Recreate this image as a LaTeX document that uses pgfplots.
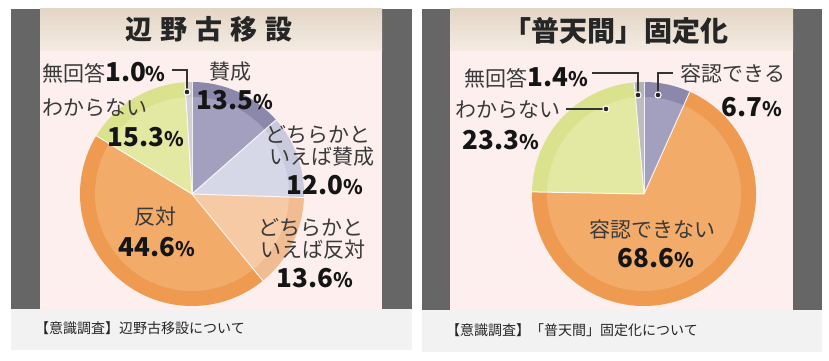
\documentclass[border=0pt]{standalone}
\usepackage{pgfplots}
\pgfplotsset{compat=1.18}
\usepackage{pgfplotstable}
\usepackage{fontspec}
\setmainfont{Noto Sans CJK JP}

\definecolor{frame}{HTML}{666666}
\definecolor{pinkbg}{HTML}{FCEFEE}
\definecolor{capbg}{HTML}{F2F2F2}
\definecolor{bandtop}{HTML}{E4D6C7}
\definecolor{bandbot}{HTML}{F5EBE3}
\definecolor{lavR}{HTML}{8C88AB}\definecolor{lavF}{HTML}{A3A0BF}
\definecolor{lilR}{HTML}{C9CADC}\definecolor{lilF}{HTML}{D6D7E7}
\definecolor{peaR}{HTML}{F2BC92}\definecolor{peaF}{HTML}{F6CAA5}
\definecolor{oraR}{HTML}{EE9A50}\definecolor{oraF}{HTML}{F3AB6A}
\definecolor{grnR}{HTML}{DAE28E}\definecolor{grnF}{HTML}{E3E9A2}
\definecolor{gryR}{HTML}{CBC7CA}\definecolor{gryF}{HTML}{D3D0D3}
\definecolor{gr2R}{HTML}{B3B1B6}\definecolor{gr2F}{HTML}{BEBCC1}
\definecolor{cattext}{HTML}{3A3A3A}
\definecolor{pcttext}{HTML}{151515}

% 辺野古移設
\pgfplotstableread{
value rim fill
13.5 lavR lavF
12.0 lilR lilF
13.6 peaR peaF
44.6 oraR oraF
15.3 grnR grnF
1.0 gryR gryF
}\henoko
% 「普天間」固定化
\pgfplotstableread{
value rim fill
6.7 lavR lavF
68.6 oraR oraF
23.3 grnR grnF
1.4 gr2R gr2F
}\futenma

\newcommand\piechart[3]{%
  \pgfplotstablegetrowsof{#1}\pgfmathtruncatemacro\N{\pgfplotsretval-1}%
  \def\acc{90}%
  \pgfplotsforeachungrouped \i in {0,...,\N}{%
    \pgfplotstablegetelem{\i}{value}\of{#1}\let\v\pgfplotsretval
    \pgfplotstablegetelem{\i}{rim}\of{#1}\let\rimc\pgfplotsretval
    \pgfplotstablegetelem{\i}{fill}\of{#1}\let\filc\pgfplotsretval
    \pgfmathsetmacro\aend{\acc-3.6*\v}%
    \edef\temp{\noexpand\fill[color=\rimc] (axis cs:#2,#3) -- ++(\acc:112pt) arc[start angle=\acc, end angle=\aend, radius=112pt] -- cycle;
      \noexpand\fill[color=\filc] (axis cs:#2,#3) -- ++(\acc:97pt) arc[start angle=\acc, end angle=\aend, radius=97pt] -- cycle;}%
    \temp
    \let\acc\aend
  }%
  \def\acc{90}%
  \pgfplotsforeachungrouped \i in {0,...,\N}{%
    \pgfplotstablegetelem{\i}{value}\of{#1}\let\v\pgfplotsretval
    \pgfmathsetmacro\aend{\acc-3.6*\v}%
    \edef\temp{\noexpand\draw[white, line width=1pt, opacity=0.85] (axis cs:#2,#3) -- ++(\acc:112pt);}%
    \temp
    \let\acc\aend
  }%
}

\newcommand\cat[1]{{\fontsize{21}{21}\selectfont #1}}
\newcommand\pct[1]{{\fontsize{26}{26}\selectfont\bfseries #1{\fontsize{20}{20}\selectfont\%}}}
\newcommand\dotat[2]{\fill[white] (axis cs:#1,#2) circle[radius=3.6pt]; \fill[black!85] (axis cs:#1,#2) circle[radius=2.3pt];}

\begin{document}
\begin{tikzpicture}
\begin{axis}[
  width=829pt, height=361pt, scale only axis,
  xmin=0, xmax=829, ymin=0, ymax=361,
  hide axis, clip=false,
]
% backgrounds
\fill[white] (axis cs:0,0) rectangle (axis cs:829,361);
% left panel
\fill[frame] (axis cs:11,52) rectangle (axis cs:412,352);
\fill[pinkbg] (axis cs:40,52) rectangle (axis cs:382,311);
\shade[top color=bandtop, bottom color=bandbot] (axis cs:40,310) rectangle (axis cs:382,352);
\fill[capbg] (axis cs:11,11) rectangle (axis cs:412,52);
% right panel
\fill[frame] (axis cs:422,51) rectangle (axis cs:822,352);
\fill[pinkbg] (axis cs:450,51) rectangle (axis cs:793,311);
\shade[top color=bandtop, bottom color=bandbot] (axis cs:450,310) rectangle (axis cs:793,352);
\fill[capbg] (axis cs:422,9) rectangle (axis cs:822,51);

% pies
\piechart{\henoko}{192}{167}
\piechart{\futenma}{644}{167}

% titles
\node[font=\fontsize{27}{27}\selectfont\bfseries, text=black!85] at (axis cs:209,332)
  {辺\hspace{8pt}野\hspace{8pt}古\hspace{8pt}移\hspace{8pt}設};
\node[font=\fontsize{28}{28}\selectfont\bfseries, text=black!85] at (axis cs:616,330)
  {「普天間」\hspace{2pt}固定化};

% captions
\node[anchor=west, font=\fontsize{14}{14}\selectfont, text=black!85, inner sep=0pt] at (axis cs:35,33)
  {【意識調査】辺野古移設について};
\node[anchor=west, font=\fontsize{14}{14}\selectfont, text=black!85, inner sep=0pt] at (axis cs:446,31)
  {【意識調査】「普天間」固定化について};

% left labels
\draw[line width=1.2pt, black!80] (axis cs:172,291) -- (axis cs:187,291) -- (axis cs:187,269);
\dotat{187}{269}
\node[anchor=west, inner sep=0pt, text=cattext] at (axis cs:42,288)
  {\cat{無回答}\textcolor{pcttext}{\pct{1.0}}};
\node[text=cattext, inner sep=0pt] at (axis cs:230,289) {\cat{賛成}};
\node[text=pcttext, inner sep=0pt] at (axis cs:235,261) {\pct{13.5}};
\node[text=cattext, inner sep=0pt] at (axis cs:318,226) {\cat{どちらかと}};
\node[text=cattext, inner sep=0pt] at (axis cs:322,204) {\cat{いえば賛成}};
\node[text=pcttext, inner sep=0pt] at (axis cs:325,176) {\pct{12.0}};
\node[text=cattext, inner sep=0pt] at (axis cs:311,133) {\cat{どちらかと}};
\node[text=cattext, inner sep=0pt] at (axis cs:313,111) {\cat{いえば反対}};
\node[text=pcttext, inner sep=0pt] at (axis cs:315,83) {\pct{13.6}};
\node[text=cattext, inner sep=0pt] at (axis cs:155,144) {\cat{反対}};
\node[text=pcttext, inner sep=0pt] at (axis cs:157,114) {\pct{44.6}};
\node[text=cattext, inner sep=0pt] at (axis cs:95,253) {\cat{わからない}};
\node[text=pcttext, inner sep=0pt] at (axis cs:146,224) {\pct{15.3}};

% right labels
\draw[line width=1.2pt, black!80] (axis cs:592,288) -- (axis cs:638,288) -- (axis cs:638,266);
\dotat{638}{266}
\draw[line width=1.2pt, black!80] (axis cs:673,288) -- (axis cs:658,288) -- (axis cs:658,266);
\dotat{658}{266}
\draw[line width=1.2pt, black!80] (axis cs:566,252) -- (axis cs:606,252);
\dotat{606}{252}
\node[anchor=west, inner sep=0pt, text=cattext] at (axis cs:464,283)
  {\cat{無回答}\textcolor{pcttext}{\pct{1.4}}};
\node[text=cattext, inner sep=0pt] at (axis cs:733,287) {\cat{容認できる}};
\node[text=pcttext, inner sep=0pt] at (axis cs:752,254) {\pct{6.7}};
\node[text=cattext, inner sep=0pt] at (axis cs:508,251) {\cat{わからない}};
\node[text=pcttext, inner sep=0pt] at (axis cs:501,221) {\pct{23.3}};
\node[text=cattext, inner sep=0pt] at (axis cs:652,131) {\cat{容認できない}};
\node[text=pcttext, inner sep=0pt] at (axis cs:656,103) {\pct{68.6}};
\end{axis}
\end{tikzpicture}
\end{document}
